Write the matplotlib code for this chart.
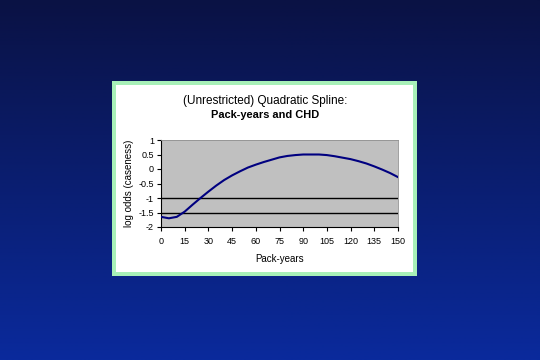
import numpy as np
import matplotlib
matplotlib.use("Agg")
import matplotlib.pyplot as plt
from matplotlib.patches import Rectangle

plt.rcParams["font.family"] = ["Liberation Sans", "DejaVu Sans"]

pack_years = [0, 5, 10, 15, 20, 25, 30, 35, 40, 45, 50, 55, 60, 65, 70, 75, 80, 85,
              90, 95, 100, 105, 110, 115, 120, 125, 130, 135, 140, 145, 150]
log_odds = [-1.65, -1.70, -1.65, -1.47, -1.23, -1.0, -0.78, -0.57, -0.38, -0.22, -0.08,
            0.05, 0.15, 0.24, 0.32, 0.40, 0.45, 0.48, 0.50, 0.50, 0.50, 0.48, 0.44,
            0.39, 0.34, 0.27, 0.19, 0.09, -0.02, -0.14, -0.28]
ref_lines = [-1.0, -1.5]
x_ticks = [0, 15, 30, 45, 60, 75, 90, 105, 120, 135, 150]
y_ticks = [-2, -1.5, -1, -0.5, 0, 0.5, 1]
y_tick_labels = ["-2", "-1.5", "-1", "-0.5", "0", "0.5", "1"]

W, H = 540, 360
fig = plt.figure(figsize=(W / 100, H / 100), dpi=100)

# background gradient
bg = fig.add_axes([0, 0, 1, 1])
grad = np.linspace(0, 1, 256).reshape(-1, 1)
top = np.array([0x0a, 0x12, 0x44]) / 255
bot = np.array([0x0a, 0x2a, 0x9c]) / 255
img = top[None, None, :] * (1 - grad[:, :, None]) + bot[None, None, :] * grad[:, :, None]
bg.imshow(img, aspect="auto", extent=[0, 1, 0, 1], origin="upper")
bg.set_xlim(0, 1)
bg.set_ylim(0, 1)
bg.axis("off")

# panel with green border
px0, py0, px1, py1 = 112, 81, 417, 276
fig.patches.append(Rectangle((px0 / W, 1 - py1 / H), (px1 - px0) / W, (py1 - py0) / H,
                             transform=fig.transFigure, facecolor="#a8f0b8",
                             edgecolor="none", zorder=1))
b = 4
fig.patches.append(Rectangle(((px0 + b) / W, 1 - (py1 - b) / H), (px1 - px0 - 2 * b) / W,
                             (py1 - py0 - 2 * b) / H, transform=fig.transFigure,
                             facecolor="white", edgecolor="none", zorder=2))

# plot area
l, r, t, btm = 161, 398, 140, 227
ax = fig.add_axes([l / W, 1 - btm / H, (r - l) / W, (btm - t) / H], zorder=5)
ax.set_facecolor("#c0c0c0")
for y in ref_lines:
    ax.axhline(y, color="black", lw=1.0, zorder=2)
ax.plot(pack_years, log_odds, color="#000080", lw=1.5, zorder=3)
ax.set_xlim(0, 150)
ax.set_ylim(-2, 1)
ax.set_xticks(x_ticks)
ax.set_yticks(y_ticks)
ax.set_yticklabels(y_tick_labels)
ax.tick_params(labelsize=6.5, length=3, width=0.8, direction="out", pad=2)
ax.tick_params(axis="x", pad=4)
for s in ["top", "right"]:
    ax.spines[s].set_color("#909090")
    ax.spines[s].set_linewidth(0.6)
for s in ["left", "bottom"]:
    ax.spines[s].set_linewidth(0.8)
ax.set_xlabel("Pack-years", fontsize=7, labelpad=6)
ax.set_ylabel("log odds (caseness)", fontsize=7, labelpad=3)

fig.text(265 / W, 1 - 101 / H, "(Unrestricted) Quadratic Spline:", ha="center",
         va="center", fontsize=8.5, fontweight="normal", zorder=6)
fig.text(265 / W, 1 - 115 / H, "Pack-years and CHD", ha="center",
         va="center", fontsize=7.9, fontweight="bold", zorder=6)

fig.savefig("out.png", dpi=100)
